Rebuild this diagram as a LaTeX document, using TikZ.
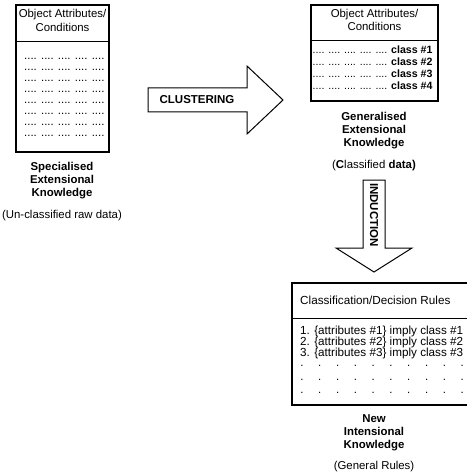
\documentclass[tikz,border=0pt]{standalone}
\usepackage{fontspec}
\setmainfont{Liberation Sans}
\begin{document}
\begin{tikzpicture}[x=1pt,y=-1pt,
  frame/.style={draw, line width=1.2pt},
  rule/.style={draw, line width=1pt},
  blockarrow/.style={draw, line width=1pt, line join=miter},
  txt/.style={font=\fontsize{11.4}{13.5}\selectfont, inner sep=0pt, align=center},
  rowtxt/.style={font=\fontsize{10.6}{12}\selectfont, inner sep=0pt},
  bigtxt/.style={font=\fontsize{11.7}{13.5}\selectfont, inner sep=0pt, align=center},
  lbl/.style={font=\bfseries\fontsize{11.4}{13}\selectfont, inner sep=0pt, align=center},
  arrowlbl/.style={font=\bfseries\fontsize{11.5}{12}\selectfont, inner sep=0pt}]
\useasboundingbox (0,0) rectangle (466,473);

% --- raw data table ---
\draw[frame] (16,5) rectangle (109,152);
\draw[rule] (16,42) -- (109,42);
\node[txt] (rawhead) at (62.5,20.5) {Object Attributes/\\Conditions};
\foreach \i in {0,...,7}
  \node[txt, anchor=base west] (rawrow\i) at (24,{60+\i*10.86}) {.... .... .... .... ....};
\node[lbl] (rawlbl) at (62,181) {Specialised\\Extensional\\Knowledge};
\node[txt] (rawnote) at (62,216) {(Un-classified raw data)};

% --- clustering arrow ---
\draw[blockarrow] (148,88) -- (247,88) -- (247,66) -- (283,100) -- (247,134) -- (247,112) -- (148,112) -- cycle;
\node[arrowlbl] (clust) at (197,100) {CLUSTERING};

% --- classified data table ---
\draw[frame] (311,5) rectangle (438,101);
\draw[rule] (311,41) -- (438,41);
\node[txt] (clshead) at (374.5,20) {Object Attributes/\\Conditions};
\foreach \i in {1,...,4}
  \node[rowtxt, anchor=base west] (clsrow\i) at (312.5,{42+\i*12}) {.... .... .... .... .... \textbf{class \#\i}};
\node[lbl] (clslbl) at (374,131) {Generalised\\Extensional\\Knowledge};
\node[txt] (clsnote) at (374,166) {(\textbf{C}lassified \textbf{data)}};

% --- induction arrow ---
\draw[blockarrow] (363,180) -- (385,180) -- (385,248) -- (412,248) -- (374,272) -- (336,248) -- (363,248) -- cycle;
\node[arrowlbl, rotate=-90] (induct) at (374,215) {INDUCTION};

% --- rules table (runs off the right edge) ---
\draw[frame] (467,283) -- (292,283) -- (292,405) -- (467,405);
\draw[rule] (292,318) -- (467,318);
\node[bigtxt, anchor=west] (rulehead) at (300,300) {Classification/Decision Rules};
\foreach \i in {1,2,3}
  \node[bigtxt, anchor=base west] (rule\i) at (300,{323+\i*11}) {\i. \{attributes \#\i\} imply class \#\i};
\foreach \r/\y in {1/366,2/380,3/393}
  \foreach \c in {0,...,9}
    \node[txt, anchor=base] (dot\r\c) at ({302+\c*17.8},\y) {.};
\node[lbl] (rulelbl) at (374,433) {New\\Intensional\\Knowledge};
\node[txt] (rulenote) at (374,467) {(General Rules)};
\end{tikzpicture}
\end{document}
